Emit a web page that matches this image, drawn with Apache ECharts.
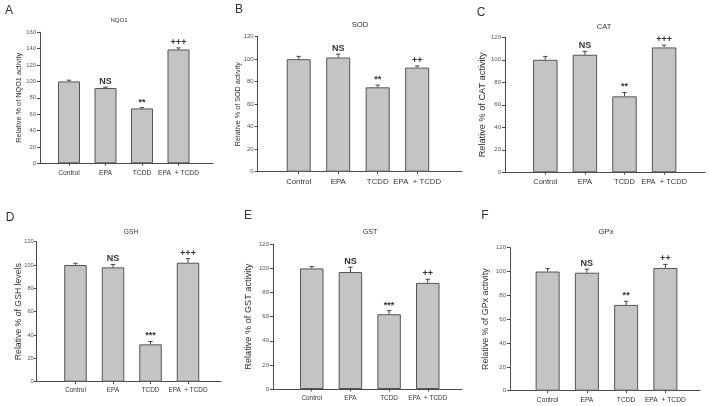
<!DOCTYPE html>
<html>
<head>
<meta charset="utf-8">
<script src="https://cdn.jsdelivr.net/npm/echarts@6/dist/echarts.min.js"></script>
<style>
html,body{margin:0;padding:0;background:#fff;}
#chart{width:709px;height:406px;}
</style>
</head>
<body>
<div id="chart"></div>
<script>
// ---------- DATA ----------
const categories = ['Control', 'EPA', 'TCDD', 'EPA  + TCDD'];
const panelLetters = ['A', 'B', 'C', 'D', 'E', 'F'];
const panelTitles = ['NQO1', 'SOD', 'CAT', 'GSH', 'GST', 'GPx'];
const yAxisNames = [
  'Relative % of NQO1 activity',
  'Relative % of SOD activity',
  'Relative % of CAT activity',
  'Relative % of GSH levels',
  'Relative % of GST activity',
  'Relative % of GPx activity'
];
const yAxisMax = [160, 120, 120, 120, 120, 120];
const yTickStep = 20;

const nqo1Values = [100, 92, 67, 139];
const nqo1Errors = [1.5, 1, 1, 2];
const nqo1Marks = ['', 'NS', '**', '+++'];

const sodValues = [100, 101.5, 75, 92.5];
const sodErrors = [2.5, 3, 2, 1.5];
const sodMarks = ['', 'NS', '**', '++'];

const catValues = [100, 104.5, 67.5, 111];
const catErrors = [3, 3, 3.5, 2];
const catMarks = ['', 'NS', '**', '+++'];

const gshValues = [100, 98, 32, 102];
const gshErrors = [1.5, 2.5, 2.5, 3.5];
const gshMarks = ['', 'NS', '***', '+++'];

const gstValues = [100, 97, 62, 88];
const gstErrors = [1.5, 4, 3, 3];
const gstMarks = ['', 'NS', '***', '++'];

const gpxValues = [100, 99, 72, 103];
const gpxErrors = [2.5, 3, 3, 3];
const gpxMarks = ['', 'NS', '**', '++'];

const valueSets = [nqo1Values, sodValues, catValues, gshValues, gstValues, gpxValues];
const errorSets = [nqo1Errors, sodErrors, catErrors, gshErrors, gstErrors, gpxErrors];
const markSets = [nqo1Marks, sodMarks, catMarks, gshMarks, gstMarks, gpxMarks];

// ---------- LAYOUT / STYLE ----------
const FONT = "'Liberation Sans', Arial, Helvetica, sans-serif";
const layout = [
  {fl: 40,    fr: 213, top: 32.3,  bottom: 163.3, bl: 50.75, bw: 146,   barW: 22,   nameGap: 17.5, nameSize: 7.3, tickSize: 5.8, tickMargin: 4, catSize: 6.7, title: [119, 20, 6],    letter: [9, 11]},
  {fl: 257.7, fr: 462, top: 36.7,  bottom: 171.7, bl: 278.95, bw: 158,  barW: 24,   nameGap: 16,   nameSize: 7.2, tickSize: 6,   tickMargin: 4, catSize: 7.8, title: [360, 25, 7.7],  letter: [239, 10]},
  {fl: 505,   fr: 705, top: 37.3,  bottom: 172.3, bl: 525.5, bw: 158.4, barW: 24.5, nameGap: 18,   nameSize: 9.2, tickSize: 6,   tickMargin: 4, catSize: 7.5, title: [604, 26.7, 7.5], letter: [481, 13]},
  {fl: 36.7,  fr: 221, top: 241.7, bottom: 381.7, bl: 56.75, bw: 150,   barW: 22.5, nameGap: 14,   nameSize: 8.7, tickSize: 5.6, tickMargin: 3, catSize: 6.4, title: [131, 231.7, 6.6], letter: [10, 218]},
  {fl: 273,   fr: 462, top: 244.3, bottom: 389,   bl: 292.4, bw: 154.7, barW: 23.5, nameGap: 20.4, nameSize: 9.2, tickSize: 6,   tickMargin: 4, catSize: 6.4, title: [370, 231.7, 7.1], letter: [248, 216]},
  {fl: 510,   fr: 700, top: 247.7, bottom: 390.7, bl: 528,   bw: 157,   barW: 24,   nameGap: 19.5, nameSize: 8.9, tickSize: 6,   tickMargin: 4, catSize: 6.7, title: [606, 231.7, 7.7], letter: [485, 216]}
];

const axisColor = '#4a4a4a';
const textColor = '#333';

function errRenderer(marks) {
  return function (params, api) {
    const x = api.value(0);
    const v = api.value(1);
    const e = api.value(2);
    const base = api.coord([x, v]);
    const hi = api.coord([x, v + e]);
    const cap = 2.2;
    const children = [
      {type: 'line', shape: {x1: base[0], y1: base[1], x2: hi[0], y2: hi[1]}, style: {stroke: '#444', lineWidth: 1}},
      {type: 'line', shape: {x1: hi[0] - cap, y1: hi[1], x2: hi[0] + cap, y2: hi[1]}, style: {stroke: '#444', lineWidth: 1}}
    ];
    const label = marks[params.dataIndex];
    if (label) {
      children.push({
        type: 'text', x: hi[0], y: hi[1] - 1,
        style: {text: label, align: 'center', verticalAlign: 'bottom', textAlign: 'center', textVerticalAlign: 'bottom',
                font: 'bold 9px ' + FONT, fill: '#333'}
      });
    }
    return {type: 'group', children: children};
  };
}

const grid = [], xAxis = [], yAxis = [], series = [], graphic = [];

layout.forEach(function (L, p) {
  const h = L.bottom - L.top;
  const fg = grid.length;
  grid.push({left: L.fl, top: L.top, width: L.fr - L.fl, height: h, containLabel: false});
  const bg = grid.length;
  grid.push({left: L.bl, top: L.top, width: L.bw, height: h, containLabel: false});

  xAxis.push({type: 'value', gridIndex: fg, min: 0, max: 1,
    axisLine: {show: true, lineStyle: {color: axisColor, width: 1}},
    axisTick: {show: false}, axisLabel: {show: false}, splitLine: {show: false}});
  yAxis.push({type: 'value', gridIndex: fg, min: 0, max: yAxisMax[p], interval: yTickStep,
    name: yAxisNames[p], nameLocation: 'middle', nameGap: L.nameGap, nameMoveOverlap: false,
    nameTextStyle: {fontFamily: FONT, fontSize: L.nameSize, color: textColor},
    axisLine: {show: true, lineStyle: {color: axisColor, width: 1}},
    axisTick: {show: true, length: 3, lineStyle: {color: axisColor}},
    axisLabel: {fontFamily: FONT, fontSize: L.tickSize, color: '#555', margin: L.tickMargin},
    splitLine: {show: false}});

  const bx = xAxis.length;
  xAxis.push({type: 'category', gridIndex: bg, data: categories, boundaryGap: true,
    axisLine: {show: false},
    axisTick: {show: true, alignWithLabel: true, length: 2.5, lineStyle: {color: axisColor}},
    axisLabel: {fontFamily: FONT, fontSize: L.catSize, color: textColor, margin: 6, interval: 0}});
  const by = yAxis.length;
  yAxis.push({type: 'value', gridIndex: bg, min: 0, max: yAxisMax[p], interval: yTickStep, show: false});

  series.push({type: 'bar', xAxisIndex: bx, yAxisIndex: by, data: valueSets[p], barWidth: L.barW,
    itemStyle: {color: '#c4c4c4', borderColor: '#555', borderWidth: 1}, silent: true, animation: false});
  series.push({type: 'custom', xAxisIndex: bx, yAxisIndex: by, z: 5, animation: false,
    data: categories.map(function (c, i) { return [i, valueSets[p][i], errorSets[p][i]]; }),
    encode: {x: 0, y: 1},
    renderItem: errRenderer(markSets[p])});

  graphic.push({type: 'text', x: L.letter[0], y: L.letter[1],
    style: {text: panelLetters[p], align: 'center', verticalAlign: 'middle', textAlign: 'center', textVerticalAlign: 'middle',
            font: '12px ' + FONT, fill: textColor}});
  graphic.push({type: 'text', x: L.title[0], y: L.title[1],
    style: {text: panelTitles[p], align: 'center', verticalAlign: 'middle', textAlign: 'center', textVerticalAlign: 'middle',
            font: L.title[2] + 'px ' + FONT, fill: textColor}});
});

const chart = echarts.init(document.getElementById('chart'), null, {renderer: 'canvas'});
chart.setOption({
  backgroundColor: '#ffffff',
  animation: false,
  grid: grid, xAxis: xAxis, yAxis: yAxis, series: series, graphic: graphic
});
</script>
</body>
</html>
